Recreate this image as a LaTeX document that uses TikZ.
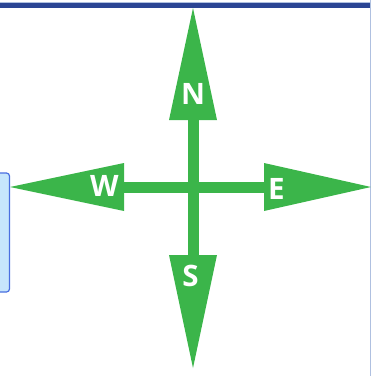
\documentclass[tikz,border=0pt]{standalone}
\usepackage{fontspec}
\setmainfont{Open Sans}
\definecolor{compassgreen}{HTML}{3BB54A}
\definecolor{bandblue}{HTML}{2B4594}
\definecolor{edgeblue}{HTML}{AFC0E0}
\definecolor{boxfill}{HTML}{C6E6FC}
\definecolor{boxline}{HTML}{4A6FE0}
\tikzset{
  head/.style={fill=compassgreen},
  bar/.style={draw=compassgreen, line width=11pt},
  letter/.style={text=white, font=\fontsize{29.5}{31}\selectfont\bfseries, inner sep=0pt}
}

\begin{document}
\begin{tikzpicture}[x=1pt, y=-1pt]
  \useasboundingbox (0,0) rectangle (371,376);
  % frame pieces of the slide
  \fill[edgeblue] (0,1.5) rectangle (371,3);
  \fill[bandblue] (0,3) rectangle (371,7.5);
  \fill[edgeblue] (369.8,0) rectangle (371,376);
  \draw[boxline, fill=boxfill, line width=1.2pt, rounded corners=3pt] (-10,173) rectangle (9.5,292);

  \coordinate (NB) at (193,120);
  \coordinate (SB) at (193,255);
  \coordinate (WB) at (124,187.5);
  \coordinate (EB) at (264,187.5);
  \draw[bar] (NB) -- (SB);
  \draw[bar] (WB) -- (EB);

  \fill[head] (193,8) -- (217,120) -- (169,120) -- cycle;
  \fill[head] (193,368) -- (217,255) -- (169,255) -- cycle;
  \fill[head] (10,187) -- (124,163) -- (124,211) -- cycle;
  \fill[head] (371,187) -- (264,163) -- (264,211) -- cycle;

  \node[letter] (N) at (193,93.5) {N};
  \node[letter] (S) at (190.5,275.5) {S};
  \node[letter] (W) at (104.5,186) {W};
  \node[letter] (E) at (276.5,188.5) {E};
\end{tikzpicture}
\end{document}
